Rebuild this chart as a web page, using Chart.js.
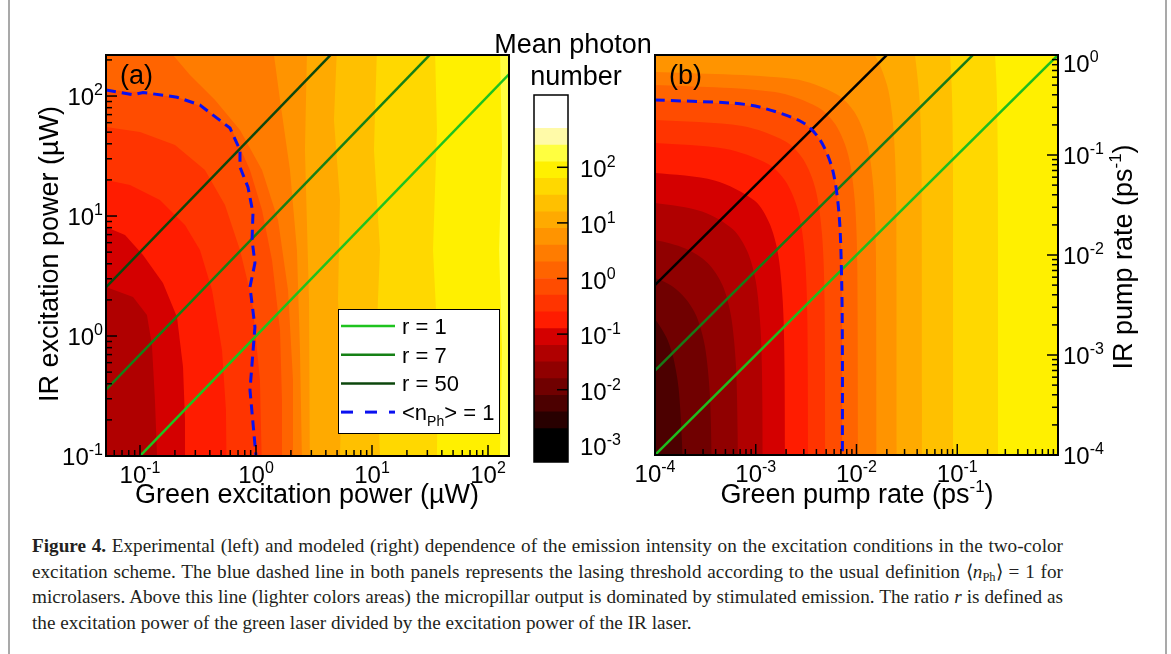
<!DOCTYPE html>
<html>
<head>
<meta charset="utf-8">
<script src="https://cdn.jsdelivr.net/npm/chart.js@4.4.1/dist/chart.umd.min.js"></script>
<style>
  body { margin: 0; background: #fff; }
  #fig { position: relative; width: 1171px; height: 654px; overflow: hidden; background: #fff; }
  #frame { position: absolute; left: 8px; top: -30px; width: 1155px; height: 720px; border: 2px solid #a9a9a9; border-radius: 10px; }
  canvas { position: absolute; left: 0; top: 0; }
  #cap { position: absolute; left: 32px; top: 533px; width: 1031px; font-family: "Liberation Serif", "Times New Roman", serif;
         font-size: 19.2px; line-height: 25.7px; color: #231f20; }
  #cap .j { text-align: justify; text-align-last: justify; word-spacing: -1.5px; }
  #cap sub { font-size: 12.5px; line-height: 0; vertical-align: -3px; }
</style>
</head>
<body>
<div id="fig">
  <div id="frame"></div>
  <canvas id="panelA" width="1171" height="520"></canvas>
  <canvas id="cbar" width="1171" height="520"></canvas>
  <canvas id="panelB" width="1171" height="520"></canvas>
  <div id="cap">
    <div class="j"><b>Figure 4.</b> Experimental (left) and modeled (right) dependence of the emission intensity on the excitation conditions in the two-color</div>
    <div class="j">excitation scheme. The blue dashed line in both panels represents the lasing threshold according to the usual definition ⟨<i>n</i><sub>Ph</sub>⟩ = 1 for</div>
    <div class="j">microlasers. Above this line (lighter colors areas) the micropillar output is dominated by stimulated emission. The ratio <i>r</i> is defined as</div>
    <div>the excitation power of the green laser divided by the excitation power of the IR laser.</div>
  </div>
</div>
<script>
// ---------- data (all values as log10 exponents) ----------
// colour scale: band edges (log10 of mean photon number) and band colours
const cbEdges = [-3.3, -3.0, -2.7, -2.4, -2.1, -1.8, -1.5, -1.2, -0.9, -0.6, -0.3, 0,
                 0.3, 0.6, 0.9, 1.2, 1.5, 1.8, 2.1, 2.4, 2.7, 3.0, 3.3];
const cbColors = ['#000000', '#000000', '#280000', '#4c0000', '#700000', '#900000', '#b00000', '#d40000',
                  '#ff1c00', '#ff3400', '#ff4c00', '#ff6400', '#ff7c00', '#ff9400', '#ffaa00', '#ffc000',
                  '#ffd800', '#fff000', '#ffff40', '#fffaa8', '#ffffff', '#ffffff'];
const cbTicks = [-3, -2, -1, 0, 1, 2];

// ratio lines y = r * x
const ratios = [1, 7, 50];
const ratioNames = ['r = 1', 'r = 7', 'r = 50'];
const lineSpanX = [-6, 4];

// panel (a): experiment, contour boundaries [log x (µW), log y (µW)]
const xRangeA = [-1.293, 2.181];
const yRangeA = [-1, 2.342];
const xTicksA = [-1, 0, 1, 2];
const yTicksA = [-1, 0, 1, 2];
const levelsA = [-1.2, -0.9, -0.6, -0.3, 0, 0.3, 0.6, 0.9, 1.2, 1.5, 1.8, 2.1];
const curvesA = [
  [[-1.6, 0.408], [-1.293, 0.408], [-1.06, 0.325], [-0.94, 0.175], [-0.897, -0.075], [-0.871, -0.533], [-0.853, -1.0], [-0.853, -1.5]],
  [[-1.6, 0.908], [-1.293, 0.908], [-1.129, 0.842], [-0.974, 0.675], [-0.802, 0.442], [-0.681, 0.158], [-0.629, -0.258], [-0.612, -0.7], [-0.612, -1.5]],
  [[-1.6, 1.3], [-1.293, 1.3], [-1.086, 1.258], [-0.828, 1.133], [-0.612, 0.925], [-0.483, 0.717], [-0.379, 0.383], [-0.293, -0.117], [-0.259, -0.617], [-0.25, -1.5]],
  [[-1.6, 1.742], [-1.293, 1.742], [-1.0, 1.7], [-0.698, 1.592], [-0.44, 1.383], [-0.267, 1.092], [-0.138, 0.717], [-0.034, 0.3], [0.034, -0.367], [0.06, -1.5]],
  [[-1.6, 2.05], [-1.293, 2.05], [-1.0, 2.033], [-0.655, 1.983], [-0.44, 1.9], [-0.207, 1.717], [-0.052, 1.383], [0.052, 1.05], [0.138, 0.633], [0.207, 0.05], [0.224, -0.533], [0.224, -1.5]],
  [[-1.6, 2.6], [-0.767, 2.4], [-0.569, 2.175], [-0.353, 1.967], [-0.138, 1.717], [0.052, 1.383], [0.19, 0.967], [0.276, 0.383], [0.319, -0.367], [0.319, -1.5]],
  [[-1.6, 2.6], [0.147, 2.4], [0.207, 1.967], [0.293, 1.383], [0.353, 0.717], [0.379, -0.117], [0.405, -1.5]],
  [[-1.6, 2.6], [0.44, 2.4], [0.422, 1.55], [0.457, 0.3], [0.466, -1.5]],
  [[-1.6, 2.6], [0.698, 2.4], [0.672, 1.8], [0.724, 1.133], [0.707, 0.3], [0.741, -0.367], [0.724, -1.0], [0.745, -1.5]],
  [[-1.6, 2.6], [1.043, 2.4], [1.017, 1.55], [1.069, 0.717], [1.034, -0.117], [1.069, -1.0], [1.075, -1.5]],
  [[-1.6, 2.6], [1.543, 2.4], [1.56, 1.717], [1.526, 0.717], [1.569, -0.117], [1.56, -1.0], [1.575, -1.5]],
  [[-1.6, 2.6], [2.103, 2.4], [2.121, 1.55], [2.095, 0.717], [2.121, -0.117], [2.103, -1.0], [2.125, -1.5]]
];
const thresholdA = [[-1.293, 2.05], [-1.06, 2.01], [-0.974, 2.03], [-0.68, 1.99], [-0.483, 1.925], [-0.224, 1.733],
  [-0.138, 1.55], [-0.138, 1.408], [-0.069, 1.24], [-0.026, 1.025], [-0.034, 0.8], [-0.009, 0.608],
  [-0.052, 0.408], [-0.009, 0.075], [-0.052, -0.45], [0, -1.0]];

// panel (b): model, contour boundaries [log x (ps^-1), log y (ps^-1)]
const xRangeB = [-4, 0];
const yRangeB = [-4, 0];
const xTicksB = [-4, -3, -2, -1];
const yTicksB = [-4, -3, -2, -1, 0];
const levelsB = [-2.1, -1.8, -1.5, -1.2, -0.9, -0.6, -0.3, 0, 0.3, 0.6, 0.9, 1.2, 1.5, 1.8];
const curvesB = [
  [[-4.3, -2.5], [-4, -2.65], [-3.94, -2.73], [-3.875, -2.85], [-3.817, -3.03], [-3.766, -3.33], [-3.733, -3.85], [-3.724, -4.33], [-3.72, -5]],
  [[-4.3, -2.16], [-4, -2.23], [-3.832, -2.31], [-3.694, -2.44], [-3.589, -2.61], [-3.505, -2.91], [-3.456, -3.39], [-3.438, -4.09], [-3.434, -5]],
  [[-4.3, -1.82], [-4, -1.85], [-3.699, -1.935], [-3.477, -2.08], [-3.331, -2.3], [-3.247, -2.6], [-3.198, -3.08], [-3.18, -3.78], [-3.176, -5]],
  [[-4.3, -1.46], [-4, -1.48], [-3.532, -1.565], [-3.23, -1.74], [-3.085, -1.96], [-3.0, -2.26], [-2.952, -2.74], [-2.934, -3.44], [-2.93, -5]],
  [[-4.3, -1.17], [-4, -1.18], [-3.409, -1.254], [-3.01, -1.457], [-2.865, -1.68], [-2.78, -1.98], [-2.732, -2.46], [-2.714, -3.16], [-2.71, -5]],
  [[-4.3, -0.875], [-4, -0.88], [-3.304, -0.938], [-2.878, -1.089], [-2.702, -1.265], [-2.577, -1.566], [-2.512, -2.02], [-2.487, -2.69], [-2.48, -5]],
  [[-4.3, -0.645], [-4, -0.65], [-3.134, -0.71], [-2.708, -0.862], [-2.532, -1.038], [-2.407, -1.339], [-2.342, -1.795], [-2.317, -2.46], [-2.31, -5]],
  [[-4.3, -0.45], [-4, -0.45], [-2.964, -0.52], [-2.538, -0.672], [-2.362, -0.848], [-2.237, -1.149], [-2.172, -1.605], [-2.147, -2.27], [-2.14, -5]],
  [[-4.3, -0.3], [-4, -0.3], [-2.809, -0.37], [-2.383, -0.522], [-2.207, -0.698], [-2.082, -0.999], [-2.017, -1.455], [-1.992, -2.12], [-1.985, -5]],
  [[-4.3, -0.17], [-4, -0.17], [-2.624, -0.24], [-2.198, -0.392], [-2.022, -0.568], [-1.897, -0.869], [-1.832, -1.325], [-1.807, -1.99], [-1.8, -5]],
  [[-4.3, 0.4], [-2.6, 0.354], [-2.0, 0.18], [-1.82, 0], [-1.697, -0.3], [-1.646, -0.6], [-1.618, -1.0], [-1.604, -1.6], [-1.6, -5]],
  [[-4.3, 0.82], [-1.65, 0.52], [-1.447, 0.12], [-1.42, 0], [-1.372, -0.48], [-1.354, -1.18], [-1.35, -5]],
  [[-4.3, 1.15], [-1.086, 0.15], [-1.072, 0], [-1.053, -0.37], [-1.042, -1.15], [-1.04, -5]],
  [[-4.3, 1.17], [-0.641, 0.17], [-0.625, 0], [-0.608, -0.35], [-0.597, -1.13], [-0.595, -5]]
];
const thresholdB = [[-4, -0.45], [-3.256, -0.48], [-2.964, -0.52], [-2.538, -0.672], [-2.362, -0.848],
  [-2.237, -1.149], [-2.172, -1.605], [-2.147, -2.27], [-2.14, -3], [-2.14, -4]];

// ---------- drawing ----------
const W = 1171, H = 520;
const FONT = '"Liberation Sans", Arial, Helvetica, sans-serif';

const toPts = arr => arr.map(p => ({ x: 10 ** p[0], y: 10 ** p[1] }));
const bandIndex = L => cbEdges.findIndex(e => Math.abs(e - L) < 1e-6);

// text with mixed sizes (superscripts / subscripts)
function drawRich(ctx, parts, x, y, align) {
  let w = 0;
  parts.forEach(p => { ctx.font = p.s + 'px ' + FONT; p.w = ctx.measureText(p.t).width; w += p.w; });
  let cx = align === 'center' ? x - w / 2 : align === 'right' ? x - w : x;
  ctx.textAlign = 'left';
  ctx.textBaseline = 'alphabetic';
  parts.forEach(p => { ctx.font = p.s + 'px ' + FONT; ctx.fillText(p.t, cx, y + (p.dy || 0)); cx += p.w; });
}
const pow10 = e => [{ t: '10', s: 24 }, { t: String(e), s: 16, dy: -10 }];

function logTickList(lo, hi) {
  const out = [];
  for (let d = Math.floor(lo); d <= Math.ceil(hi); d++) {
    for (let k = 1; k <= 9; k++) {
      const lv = Math.log10(k * 10 ** d);
      if (lv >= lo - 1e-9 && lv <= hi + 1e-9) out.push({ v: k * 10 ** d, major: k === 1 });
    }
  }
  return out;
}

function drawTicks(ctx, a, scale, range, side) {
  ctx.strokeStyle = '#000';
  ctx.lineWidth = 1.5;
  logTickList(range[0], range[1]).forEach(t => {
    const len = t.major ? 11 : 6;
    const p = scale.getPixelForValue(t.v);
    ctx.beginPath();
    if (side === 'bottom') { ctx.moveTo(p, a.bottom); ctx.lineTo(p, a.bottom - len); }
    if (side === 'left') { ctx.moveTo(a.left, p); ctx.lineTo(a.left + len, p); }
    if (side === 'right') { ctx.moveTo(a.right, p); ctx.lineTo(a.right - len, p); }
    ctx.stroke();
  });
}

function decor(o) {
  return {
    id: 'decor',
    beforeDatasetsDraw(chart) {
      const { ctx, chartArea: a } = chart;
      ctx.save();
      ctx.fillStyle = o.bg;
      ctx.fillRect(a.left, a.top, a.right - a.left, a.bottom - a.top);
      ctx.restore();
    },
    afterDraw(chart) {
      const { ctx, chartArea: a, scales: { x, y } } = chart;
      ctx.save();
      ctx.strokeStyle = '#000';
      ctx.lineWidth = 2;
      ctx.strokeRect(a.left, a.top, a.right - a.left, a.bottom - a.top);
      drawTicks(ctx, a, x, o.xRange, 'bottom');
      drawTicks(ctx, a, y, o.yRange, o.ySide);
      ctx.fillStyle = '#000';
      o.xTicks.forEach(e => drawRich(ctx, pow10(e), x.getPixelForValue(10 ** e), a.bottom + 27, 'center'));
      o.yTicks.forEach(e => {
        const py = Math.max(y.getPixelForValue(10 ** e) + 9, a.top + 17);
        if (o.ySide === 'left') drawRich(ctx, pow10(e), a.left - 3, py, 'right');
        else drawRich(ctx, pow10(e), a.right + 5, py, 'left');
      });
      // panel letter
      drawRich(ctx, [{ t: o.letter, s: 27 }], a.left + 14, a.top + 29, 'left');
      // axis titles
      drawRich(ctx, o.xTitle, o.xTitlePos[0], o.xTitlePos[1], 'center');
      ctx.save();
      ctx.translate(o.yTitlePos[0], o.yTitlePos[1]);
      ctx.rotate(-Math.PI / 2);
      drawRich(ctx, o.yTitle, 0, 0, 'center');
      ctx.restore();
      if (o.legend) o.legend(ctx, a, chart);
      ctx.restore();
    }
  };
}

function legendA(ctx, a, chart) {
  const bx = a.left + 232, by = a.top + 254, bw = 161, bh = 124;
  ctx.fillStyle = '#fff';
  ctx.fillRect(bx, by, bw, bh);
  ctx.strokeStyle = '#000';
  ctx.lineWidth = 1;
  ctx.strokeRect(bx + 0.5, by + 0.5, bw, bh);
  const dsets = chart.data.datasets;
  const rows = [dsets[1], dsets[2], dsets[3], dsets[0]];
  rows.forEach((d, i) => {
    const yy = by + 17 + i * 28.7;
    ctx.save();
    ctx.strokeStyle = d.borderColor;
    ctx.lineWidth = d.borderWidth;
    ctx.setLineDash(d.borderDash ? [12, 12] : []);
    ctx.beginPath();
    ctx.moveTo(bx + 3, yy);
    ctx.lineTo(bx + 57, yy);
    ctx.stroke();
    ctx.restore();
    ctx.fillStyle = '#000';
    if (i < 3) drawRich(ctx, [{ t: ratioNames[i], s: 22 }], bx + 64, yy + 8, 'left');
    else drawRich(ctx, [{ t: '<n', s: 22 }, { t: 'Ph', s: 14, dy: 6 }, { t: '> = 1', s: 22 }], bx + 64, yy + 8, 'left');
  });
}

function makePanel(id, o) {
  const ds = [];
  ds.push({ data: toPts(o.threshold), borderColor: '#0a10f0', borderWidth: 3, borderDash: [10, 6],
            fill: false, pointRadius: 0, tension: o.tension });
  ratios.forEach((r, i) => ds.push({
    data: lineSpanX.map(e => ({ x: 10 ** e, y: r * 10 ** e })),
    borderColor: o.lineColors[i], borderWidth: 2.5, fill: false, pointRadius: 0, tension: 0
  }));
  o.levels.forEach((L, i) => {
    const c = cbColors[bandIndex(L) - 1];
    ds.push({ data: toPts(o.curves[i]), backgroundColor: c, borderColor: c, borderWidth: 0,
              fill: 'start', pointRadius: 0, tension: o.tension });
  });
  o.bg = cbColors[bandIndex(o.levels[o.levels.length - 1])];
  return new Chart(document.getElementById(id), {
    type: 'line',
    data: { datasets: ds },
    options: {
      responsive: false, animation: false, devicePixelRatio: 1,
      layout: { padding: { left: o.area[0], top: o.area[1], right: W - o.area[2], bottom: H - o.area[3] } },
      plugins: { legend: { display: false }, tooltip: { enabled: false } },
      elements: { line: { capBezierPoints: false } },
      scales: {
        x: { type: 'logarithmic', min: 10 ** o.xRange[0], max: 10 ** o.xRange[1], display: false },
        y: { type: 'logarithmic', min: 10 ** o.yRange[0], max: 10 ** o.yRange[1], display: false }
      }
    },
    plugins: [decor(o)]
  });
}

makePanel('panelA', {
  area: [106, 55, 509, 456], xRange: xRangeA, yRange: yRangeA, xTicks: xTicksA, yTicks: yTicksA, ySide: 'left',
  levels: levelsA, curves: curvesA, threshold: thresholdA, tension: 0,
  lineColors: ['#1ec31e', '#158015', '#0c470c'], letter: '(a)',
  xTitle: [{ t: 'Green excitation power (µW)', s: 27 }], xTitlePos: [307, 503],
  yTitle: [{ t: 'IR excitation power (µW)', s: 27 }], yTitlePos: [58, 254],
  legend: legendA
});

makePanel('panelB', {
  area: [655, 55, 1058, 455], xRange: xRangeB, yRange: yRangeB, xTicks: xTicksB, yTicks: yTicksB, ySide: 'right',
  levels: levelsB, curves: curvesB, threshold: thresholdB, tension: 0.3,
  lineColors: ['#1ebd1e', '#177a17', '#000000'], letter: '(b)',
  xTitle: [{ t: 'Green pump rate (ps', s: 27 }, { t: '-1', s: 17, dy: -11 }, { t: ')', s: 27 }], xTitlePos: [857, 503],
  yTitle: [{ t: 'IR pump rate (ps', s: 27 }, { t: '-1', s: 17, dy: -11 }, { t: ')', s: 27 }], yTitlePos: [1132, 257]
});

// colour bar: one floating bar per band on a log scale
new Chart(document.getElementById('cbar'), {
  type: 'bar',
  data: {
    labels: ['n'],
    datasets: cbColors.map((c, i) => ({
      data: [[10 ** cbEdges[i], 10 ** cbEdges[i + 1]]], backgroundColor: c, borderWidth: 0,
      barPercentage: 1, categoryPercentage: 1, grouped: false
    }))
  },
  options: {
    responsive: false, animation: false, devicePixelRatio: 1,
    layout: { padding: { left: 534, top: 95, right: W - 568, bottom: H - 462 } },
    plugins: { legend: { display: false }, tooltip: { enabled: false } },
    scales: {
      x: { display: false },
      y: { type: 'logarithmic', min: 10 ** cbEdges[0], max: 10 ** cbEdges[cbEdges.length - 1], display: false }
    }
  },
  plugins: [{
    id: 'cbDecor',
    afterDraw(chart) {
      const { ctx, chartArea: a, scales: { y } } = chart;
      ctx.save();
      ctx.strokeStyle = '#000';
      ctx.lineWidth = 1.5;
      ctx.strokeRect(a.left, a.top, a.right - a.left, a.bottom - a.top);
      ctx.fillStyle = '#000';
      cbTicks.forEach(e => {
        const py = y.getPixelForValue(10 ** e);
        ctx.beginPath();
        ctx.moveTo(a.right, py);
        ctx.lineTo(a.right - 11, py);
        ctx.stroke();
        drawRich(ctx, pow10(e), a.right + 12, py + 10, 'left');
      });
      drawRich(ctx, [{ t: 'Mean photon', s: 27 }], 573, 53, 'center');
      drawRich(ctx, [{ t: 'number', s: 27 }], 576, 85, 'center');
      ctx.restore();
    }
  }]
});
</script>
</body>
</html>
